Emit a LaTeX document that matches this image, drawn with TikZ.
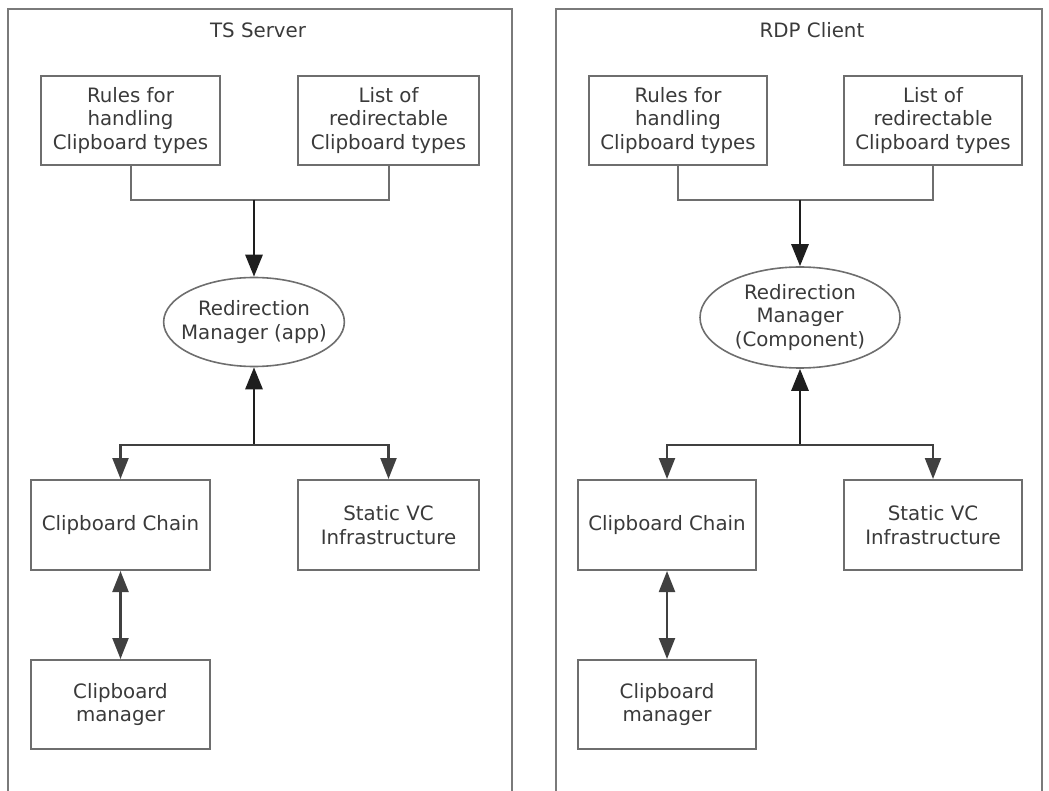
\documentclass[tikz,border=0pt]{standalone}
\usepackage{fontspec}
\setmainfont{DejaVu Sans}
\usetikzlibrary{arrows.meta,shapes.geometric}
\definecolor{framec}{HTML}{7A7A7A}
\definecolor{boxc}{HTML}{6E6E6E}
\definecolor{txtc}{HTML}{3A3A3A}
\definecolor{arrc}{HTML}{1E1E1E}
\tikzset{
  txt/.style={text=txtc,font=\fontsize{19.8}{23.5}\selectfont,align=center,inner sep=0pt},
  boxn/.style={txt,draw=boxc,line width=2pt,rectangle,minimum width=#1,minimum height=89pt},
  elln/.style={txt,draw=boxc,line width=1.6pt,ellipse,inner sep=0pt},
  framel/.style={draw=framec,line width=2.2pt},
  feed/.style={draw=boxc,line width=2pt},
  arrmain/.style={draw=arrc,line width=2.8pt,-{Triangle[length=22pt,width=17pt]}},
  arrbr/.style={draw=arrc!85!white,line width=2.2pt,-{Triangle[length=21pt,width=16pt]}},
  arrdbl/.style={draw=arrc!85!white,line width=2.2pt,{Triangle[length=21pt,width=16pt]}-{Triangle[length=21pt,width=16pt]}}
}
\begin{document}
\begin{tikzpicture}[x=1pt,y=-1pt]
\useasboundingbox (0,0) rectangle (1049,791);
% frames
\draw[framel] (8,800) -- (8,9) -- (512,9) -- (512,800);
\draw[framel] (556,800) -- (556,9) -- (1042,9) -- (1042,800);
% titles
\node[txt] (t1) at (258,30) {TS Server};
\node[txt] (t2) at (812,30) {RDP Client};
% left panel
\node[boxn=179pt] (rules1) at (130.5,120.5) {Rules for\\handling\\Clipboard types};
\node[boxn=181pt] (list1) at (388.5,120.5) {List of\\redirectable\\Clipboard types};
\node[elln,inner xsep=-9pt,minimum width=180pt,minimum height=89pt] (rm1) at (254,322) {Redirection\\Manager (app)};
\node[boxn=179pt,minimum height=90pt] (chain1) at (120.5,525) {Clipboard Chain};
\node[boxn=181pt,minimum height=90pt] (static1) at (388.5,525) {Static VC\\Infrastructure};
\node[boxn=179pt] (mgr1) at (120.5,704.5) {Clipboard\\manager};
\coordinate (j1) at (254,200);
\coordinate (j2) at (254,445);
\draw[feed] (rules1.south) |- (j1) -| (list1.south);
\draw[arrmain] (j1) -- (rm1.north);
\draw[arrmain] (j2) -- (rm1.south);
\draw[arrbr] (j2) -| (chain1.north);
\draw[arrbr] (j2) -| (static1.north);
\draw[arrdbl] (chain1.south) -- (mgr1.north);
% right panel
\node[boxn=178pt] (rules2) at (678,120.5) {Rules for\\handling\\Clipboard types};
\node[boxn=178pt] (list2) at (933,120.5) {List of\\redirectable\\Clipboard types};
\node[elln,minimum width=200pt,minimum height=101pt] (rm2) at (800,317.5) {Redirection\\Manager\\(Component)};
\node[boxn=178pt,minimum height=90pt] (chain2) at (667,525) {Clipboard Chain};
\node[boxn=178pt,minimum height=90pt] (static2) at (933,525) {Static VC\\Infrastructure};
\node[boxn=178pt] (mgr2) at (667,704.5) {Clipboard\\manager};
\coordinate (j3) at (800,200);
\coordinate (j4) at (800,445);
\draw[feed] (rules2.south) |- (j3) -| (list2.south);
\draw[arrmain] (j3) -- (rm2.north);
\draw[arrmain] (j4) -- (rm2.south);
\draw[arrbr] (j4) -| (chain2.north);
\draw[arrbr] (j4) -| (static2.north);
\draw[arrdbl] (chain2.south) -- (mgr2.north);
\end{tikzpicture}
\end{document}
